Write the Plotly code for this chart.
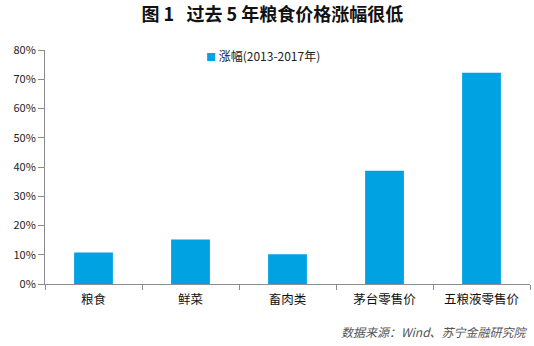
import plotly.graph_objects as go

categories = ["粮食", "鲜菜", "畜肉类", "茅台零售价", "五粮液零售价"]
growth = [0.108, 0.152, 0.102, 0.387, 0.722]
series_name = "涨幅(2013-2017年)"
y_ticks = [0, 0.1, 0.2, 0.3, 0.4, 0.5, 0.6, 0.7, 0.8]

CJK = "Noto Sans CJK SC"
BAR = "#00A2E1"
AXIS = "#8c8c8c"

fig = go.Figure()
fig.add_trace(go.Bar(
    x=categories, y=growth, name=series_name,
    marker=dict(color=BAR, line=dict(width=0)),
    showlegend=False,
))

fig.update_layout(
    width=534, height=346,
    margin=dict(l=45, r=4, t=50, b=62),
    paper_bgcolor="white", plot_bgcolor="white",
    bargap=0.6,
    font=dict(family=CJK, size=11, color="#222"),
    title=dict(
        text="<b>图 1&nbsp;&nbsp;&nbsp;过去 5 年粮食价格涨幅很低</b>",
        x=0.51, xanchor="center", y=0.958, yanchor="middle",
        font=dict(family=CJK, size=18, color="#111"),
    ),
    xaxis=dict(
        type="category", showline=True, linecolor=AXIS, linewidth=1,
        ticks="outside", tickson="boundaries", ticklen=5, tickcolor=AXIS,
        showgrid=False, tickfont=dict(size=12.5, color="#111"),
        ticklabelstandoff=4,
    ),
    yaxis=dict(
        range=[0, 0.8], tickvals=y_ticks, tickformat=".0%",
        showline=True, linecolor=AXIS, linewidth=1,
        ticks="outside", ticklen=6, tickcolor=AXIS,
        showgrid=False, zeroline=False,
        tickfont=dict(size=11, color="#222"),
    ),
)

# compact legend key: small square swatch followed by the series name
fig.add_annotation(
    text=f"<span style='color:{BAR};font-size:10px'>■</span> {series_name}",
    xref="paper", yref="paper", x=(204 - 45) / 485, y=(284.5 - 56) / 234,
    xanchor="left", yanchor="middle", showarrow=False,
    font=dict(family=CJK, size=12, color="#222"),
)

fig.add_annotation(
    text="<i>数据来源：Wind、苏宁金融研究院</i>",
    xref="paper", yref="paper", x=1.0, y=-0.205,
    xanchor="right", yanchor="middle", showarrow=False,
    font=dict(family=CJK, size=12, color="#555"),
)

fig.write_html("out.html")
